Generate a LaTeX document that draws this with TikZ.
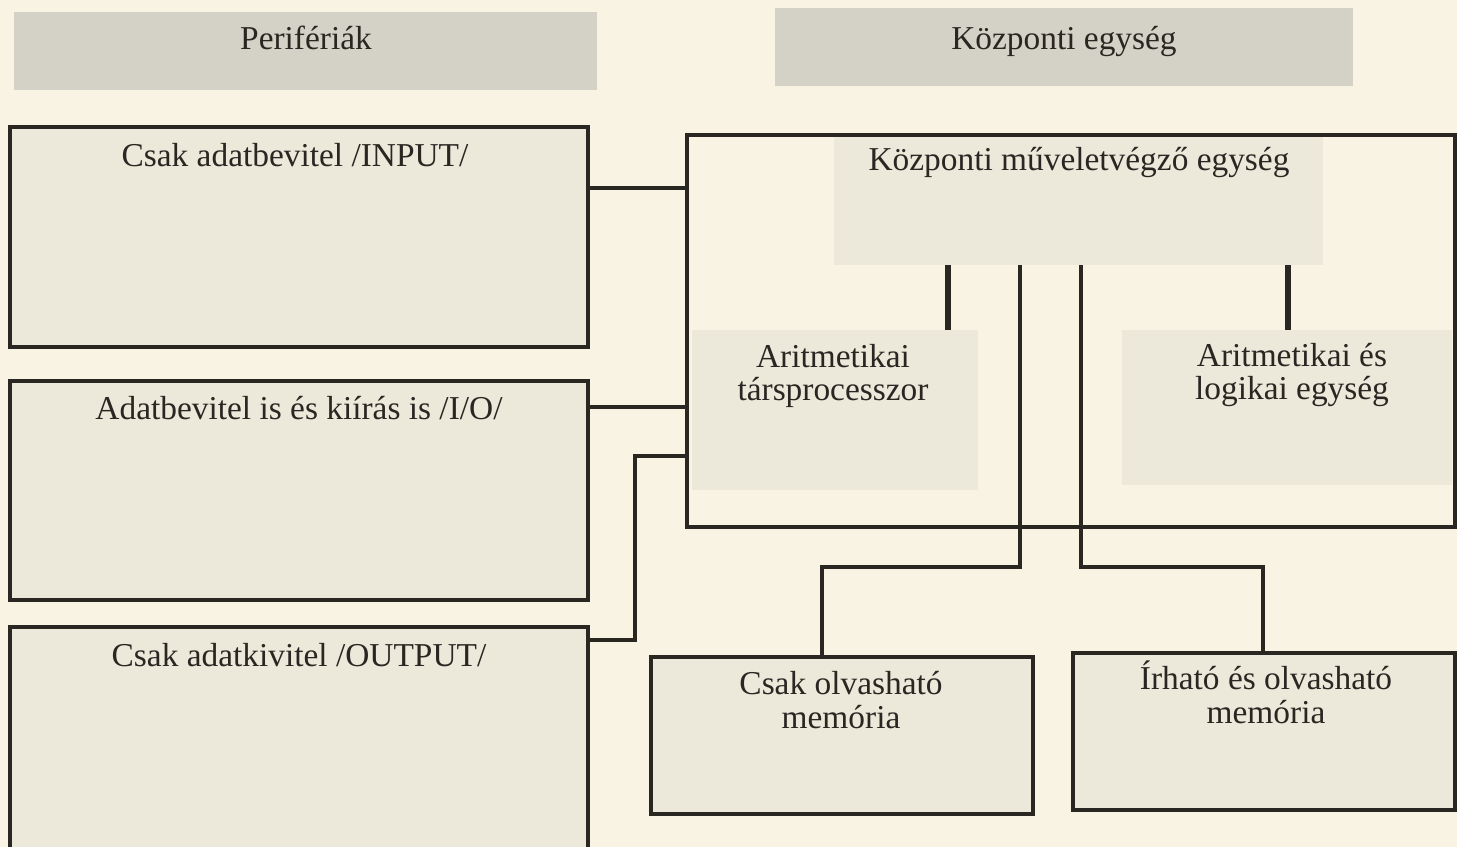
\documentclass[tikz,border=0pt]{standalone}
\usepackage{fontspec}
\setmainfont{Liberation Serif}
\usetikzlibrary{positioning}
\definecolor{paper}{RGB}{248,243,227}
\definecolor{ink}{RGB}{42,38,34}
\definecolor{headfill}{RGB}{212,209,198}
\definecolor{boxfill}{RGB}{236,232,218}

\begin{document}
\begin{tikzpicture}[x=0.02cm, y=-0.02cm, font=\fontsize{19}{19}\selectfont,
  head/.style={fill=headfill, inner sep=0, minimum height=1.56cm},
  unit/.style={draw=ink, line width=2pt, fill=boxfill, inner sep=0},
  part/.style={fill=boxfill, inner sep=0},
  txt/.style={text=ink, align=center, inner sep=0, anchor=base},
  bus/.style={draw=ink, line width=2pt},
  tap/.style={draw=ink, line width=3pt}]
  \fill[paper] (0,0) rectangle (1457,847);
  \clip (0,0) rectangle (1457,847);

  % fejlecek
  \node[head, minimum width=11.66cm] (hper) at (305.5,51) {};
  \node[head, minimum width=11.56cm] (hcu) at (1064,47) {};
  \node[txt] (hpertxt) at (306,50) {Perifériák};
  \node[txt] (hcutxt) at (1064,50) {Központi egység};

  % periferiak
  \node[unit, minimum width=11.56cm, minimum height=4.4cm] (inp) at (299,237) {};
  \node[unit, minimum width=11.56cm, minimum height=4.38cm] (io) at (299,490.5) {};
  \node[unit, minimum width=11.56cm, minimum height=4.86cm] (out) at (299,748.5) {};
  \node[txt] (inptxt) at (295,167) {Csak adatbevitel /INPUT/};
  \node[txt] (iotxt) at (299,420) {Adatbevitel is és kiírás is /I/O/};
  \node[txt] (outtxt) at (299,666) {Csak adatkivitel /OUTPUT/};

  % kozponti egyseg
  \node[draw=ink, line width=2pt, minimum width=15.36cm, minimum height=7.84cm] (cu) at (1071,331) {};
  \node[part, minimum width=9.78cm, minimum height=2.56cm] (cpu) at (1078.5,201) {};
  \node[part, minimum width=5.72cm, minimum height=3.2cm] (cop) at (835,410) {};
  \node[part, minimum width=6.6cm, minimum height=3.1cm] (alu) at (1287,407.5) {};
  \node[txt] (cputxt) at (1079,171) {Központi műveletvégző egység};
  \node[txt] (coptxt) at (833,401) {Aritmetikai\\társprocesszor};
  \node[txt] (alutxt) at (1292,400) {Aritmetikai és\\logikai egység};

  % memoriak
  \node[unit, minimum width=7.64cm, minimum height=3.14cm] (rom) at (842,735.5) {};
  \node[unit, minimum width=7.64cm, minimum height=3.14cm] (ram) at (1264,731.5) {};
  \node[txt] (romtxt) at (841,728) {Csak olvasható\\memória};
  \node[txt] (ramtxt) at (1266,723) {Írható és olvasható\\memória};

  % vonalak
  \coordinate (inpk) at (0,188);
  \coordinate (iok) at (0,407);
  \coordinate (outk) at (635,640);
  \coordinate (outj) at (635,456);
  \draw[bus] (inp.east |- inpk) -- (cu.west |- inpk);
  \draw[bus] (io.east |- iok) -- (cu.west |- iok);
  \draw[bus] (out.east |- outk) -- (outk) -- (outj) -- (cu.west |- outj);

  \coordinate (copx) at (948,300);
  \coordinate (alux) at (1288,300);
  \draw[tap] (cpu.south -| copx) -- (cop.north -| copx);
  \draw[tap] (cpu.south -| alux) -- (alu.north -| alux);

  \coordinate (romx) at (1020,567);
  \coordinate (romk) at (822,567);
  \coordinate (ramx) at (1081,567);
  \coordinate (ramk) at (1263,567);
  \draw[bus] (cpu.south -| romx) -- (romx) -- (romk) -- (rom.north -| romk);
  \draw[bus] (cpu.south -| ramx) -- (ramx) -- (ramk) -- (ram.north -| ramk);
\end{tikzpicture}
\end{document}
